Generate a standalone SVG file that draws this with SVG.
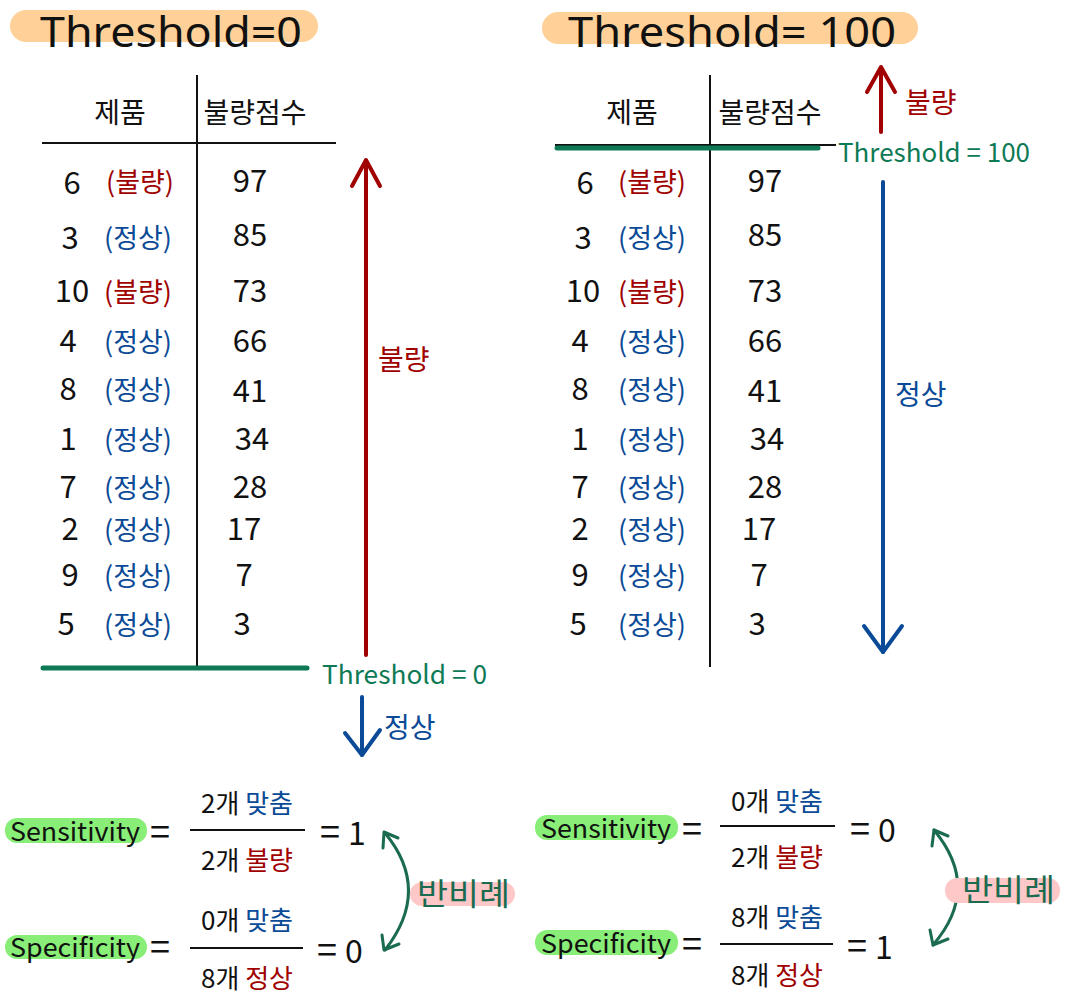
<svg xmlns="http://www.w3.org/2000/svg" width="1066" height="1000" viewBox="0 0 1066 1000">
<style>
text{font-family:"Noto Sans CJK KR","Noto Sans",sans-serif;}
.t{font-family:"Noto Sans",sans-serif;font-size:41px;fill:#111;}
.h{font-size:28px;fill:#111;text-anchor:middle;}
.n{font-size:31px;fill:#111;text-anchor:middle;}
.bad{font-size:27px;fill:#a00000;text-anchor:middle;}
.ok{font-size:27px;fill:#0a4a96;text-anchor:middle;}
.g{font-size:26px;fill:#0d7a55;}
.lbl{font-size:28px;}
.f{font-size:26px;fill:#111;text-anchor:middle;}
.eq{font-size:36px;fill:#111;}
.big{font-size:32px;fill:#111;}
.blk{stroke:#111;stroke-width:2;fill:none;}
.grn{stroke:#0d7a55;stroke-width:5;stroke-linecap:round;fill:none;}
.red{stroke:#a00000;stroke-width:4;fill:none;stroke-linecap:round;stroke-linejoin:round;}
.blu{stroke:#0a4a96;stroke-width:4;fill:none;stroke-linecap:round;stroke-linejoin:round;}
.cur{stroke:#1a6b50;stroke-width:3;fill:none;stroke-linecap:round;stroke-linejoin:round;}
.rb{font-size:31px;fill:#1a6b50;}
</style>
<rect width="1066" height="1000" fill="#fff"/>

<g id="title-left">
<rect x="10" y="10" width="308" height="32" rx="16" fill="#ffd199"/>
<text class="t" x="40" y="47" textLength="262" lengthAdjust="spacingAndGlyphs">Threshold=0</text>
</g>
<g id="title-right">
<rect x="542" y="12" width="376" height="32" rx="16" fill="#ffd199"/>
<text class="t" x="568" y="47" textLength="328" lengthAdjust="spacingAndGlyphs">Threshold= 100</text>
</g>

<g id="table-left">
<text class="h" x="120" y="123">제품</text>
<text class="h" x="255" y="123">불량점수</text>
<line class="blk" x1="197" y1="75" x2="197" y2="667"/>
<line class="blk" x1="42" y1="143" x2="336" y2="143"/>
<g>
<text class="n" x="72" y="194">6</text><text class="bad" x="140" y="192">(불량)</text><text class="n" x="250" y="192">97</text>
<text class="n" x="70" y="249">3</text><text class="ok" x="138" y="248">(정상)</text><text class="n" x="250" y="246">85</text>
<text class="n" x="72" y="302">10</text><text class="bad" x="138" y="302">(불량)</text><text class="n" x="250" y="302">73</text>
<text class="n" x="68" y="352">4</text><text class="ok" x="138" y="352">(정상)</text><text class="n" x="250" y="352">66</text>
<text class="n" x="68" y="400">8</text><text class="ok" x="138" y="400">(정상)</text><text class="n" x="250" y="402">41</text>
<text class="n" x="68" y="450">1</text><text class="ok" x="138" y="450">(정상)</text><text class="n" x="252" y="450">34</text>
<text class="n" x="68" y="498">7</text><text class="ok" x="138" y="498">(정상)</text><text class="n" x="250" y="498">28</text>
<text class="n" x="70" y="540">2</text><text class="ok" x="138" y="540">(정상)</text><text class="n" x="244" y="540">17</text>
<text class="n" x="70" y="586">9</text><text class="ok" x="138" y="586">(정상)</text><text class="n" x="244" y="586">7</text>
<text class="n" x="66" y="635">5</text><text class="ok" x="138" y="635">(정상)</text><text class="n" x="242" y="635">3</text>
</g>
<line class="grn" x1="43" y1="668" x2="307" y2="668"/>
<text class="g" x="322" y="684" textLength="165" lengthAdjust="spacingAndGlyphs">Threshold = 0</text>
</g>

<g id="arrows-left">
<line class="red" x1="366" y1="655" x2="366" y2="162"/>
<polyline class="red" points="352,186 366,160 380,186"/>
<text class="lbl" x="378" y="370" fill="#a00000">불량</text>
<line class="blu" x1="362" y1="697" x2="362" y2="755"/>
<polyline class="blu" points="345,733 362,755 380,730"/>
<text class="lbl" x="384" y="738" fill="#0a4a96">정상</text>
</g>

<g id="table-right">
<text class="h" x="632" y="123">제품</text>
<text class="h" x="770" y="123">불량점수</text>
<line class="blk" x1="710" y1="75" x2="710" y2="667"/>
<line class="blk" x1="555" y1="145" x2="836" y2="145"/>
<line class="grn" x1="557" y1="148" x2="818" y2="148"/>
<text class="g" x="838" y="162" textLength="192" lengthAdjust="spacingAndGlyphs">Threshold = 100</text>
<g>
<text class="n" x="585" y="194">6</text><text class="bad" x="652" y="192">(불량)</text><text class="n" x="765" y="192">97</text>
<text class="n" x="583" y="249">3</text><text class="ok" x="652" y="248">(정상)</text><text class="n" x="765" y="246">85</text>
<text class="n" x="583" y="302">10</text><text class="bad" x="652" y="302">(불량)</text><text class="n" x="765" y="302">73</text>
<text class="n" x="580" y="352">4</text><text class="ok" x="652" y="352">(정상)</text><text class="n" x="765" y="352">66</text>
<text class="n" x="580" y="400">8</text><text class="ok" x="652" y="400">(정상)</text><text class="n" x="765" y="402">41</text>
<text class="n" x="580" y="450">1</text><text class="ok" x="652" y="450">(정상)</text><text class="n" x="767" y="450">34</text>
<text class="n" x="580" y="498">7</text><text class="ok" x="652" y="498">(정상)</text><text class="n" x="765" y="498">28</text>
<text class="n" x="580" y="540">2</text><text class="ok" x="652" y="540">(정상)</text><text class="n" x="759" y="540">17</text>
<text class="n" x="580" y="586">9</text><text class="ok" x="652" y="586">(정상)</text><text class="n" x="759" y="586">7</text>
<text class="n" x="578" y="635">5</text><text class="ok" x="652" y="635">(정상)</text><text class="n" x="757" y="635">3</text>
</g>
</g>

<g id="arrows-right">
<line class="red" x1="881" y1="132" x2="881" y2="68"/>
<polyline class="red" points="867,92 881,67 895,92"/>
<text class="lbl" x="905" y="113" fill="#a00000">불량</text>
<line class="blu" x1="883" y1="182" x2="883" y2="652"/>
<polyline class="blu" points="864,626 883,652 902,626"/>
<text class="lbl" x="895" y="405" fill="#0a4a96">정상</text>
</g>

<g id="formula-left">
<rect x="5" y="818" width="142" height="25" rx="12" fill="#88ee77"/>
<text class="f" x="75" y="841" style="font-size:26px" textLength="130" lengthAdjust="spacingAndGlyphs">Sensitivity</text>
<text class="eq" x="150" y="845">=</text>
<text class="f" x="247" y="813">2개 <tspan fill="#0a4a96">맞춤</tspan></text>
<line class="blk" x1="190" y1="830" x2="305" y2="830"/>
<text class="f" x="247" y="870">2개 <tspan fill="#a00000">불량</tspan></text>
<text class="eq" x="320" y="845">= <tspan class="big">1</tspan></text>
<rect x="5" y="935" width="142" height="24" rx="12" fill="#88ee77"/>
<text class="f" x="75" y="957" style="font-size:26px" textLength="130" lengthAdjust="spacingAndGlyphs">Specificity</text>
<text class="eq" x="150" y="960">=</text>
<text class="f" x="247" y="930">0개 <tspan fill="#0a4a96">맞춤</tspan></text>
<line class="blk" x1="190" y1="948" x2="303" y2="948"/>
<text class="f" x="247" y="988">8개 <tspan fill="#a00000">정상</tspan></text>
<text class="eq" x="317" y="963">= <tspan class="big">0</tspan></text>
</g>
<g id="curve-left">
<path class="cur" d="M385,833 Q432,890 385,950"/>
<polyline class="cur" points="383,848 384,832 398,838"/>
<polyline class="cur" points="382,935 384,950 399,944"/>
<rect x="410" y="882" width="105" height="24" rx="12" fill="#ffc8c8"/>
<text class="rb" x="417" y="905" textLength="93" lengthAdjust="spacingAndGlyphs">반비례</text>
</g>

<g id="formula-right">
<rect x="535" y="815" width="143" height="25" rx="12" fill="#88ee77"/>
<text class="f" x="606" y="838" style="font-size:26px" textLength="130" lengthAdjust="spacingAndGlyphs">Sensitivity</text>
<text class="eq" x="682" y="842">=</text>
<text class="f" x="777" y="811">0개 <tspan fill="#0a4a96">맞춤</tspan></text>
<line class="blk" x1="720" y1="826" x2="835" y2="826"/>
<text class="f" x="777" y="867">2개 <tspan fill="#a00000">불량</tspan></text>
<text class="eq" x="850" y="842">= <tspan class="big">0</tspan></text>
<rect x="535" y="930" width="143" height="25" rx="12" fill="#88ee77"/>
<text class="f" x="606" y="953" style="font-size:26px" textLength="130" lengthAdjust="spacingAndGlyphs">Specificity</text>
<text class="eq" x="682" y="957">=</text>
<text class="f" x="777" y="927">8개 <tspan fill="#0a4a96">맞춤</tspan></text>
<line class="blk" x1="720" y1="944" x2="833" y2="944"/>
<text class="f" x="777" y="985">8개 <tspan fill="#a00000">정상</tspan></text>
<text class="eq" x="847" y="959">= <tspan class="big">1</tspan></text>
</g>
<g id="curve-right">
<path class="cur" d="M934,830 Q982,888 933,945"/>
<polyline class="cur" points="932,846 934,830 948,836"/>
<polyline class="cur" points="930,930 933,945 948,939"/>
<rect x="945" y="878" width="115" height="25" rx="12" fill="#ffc8c8"/>
<text class="rb" x="962" y="901" textLength="93" lengthAdjust="spacingAndGlyphs">반비례</text>
</g>
</svg>
